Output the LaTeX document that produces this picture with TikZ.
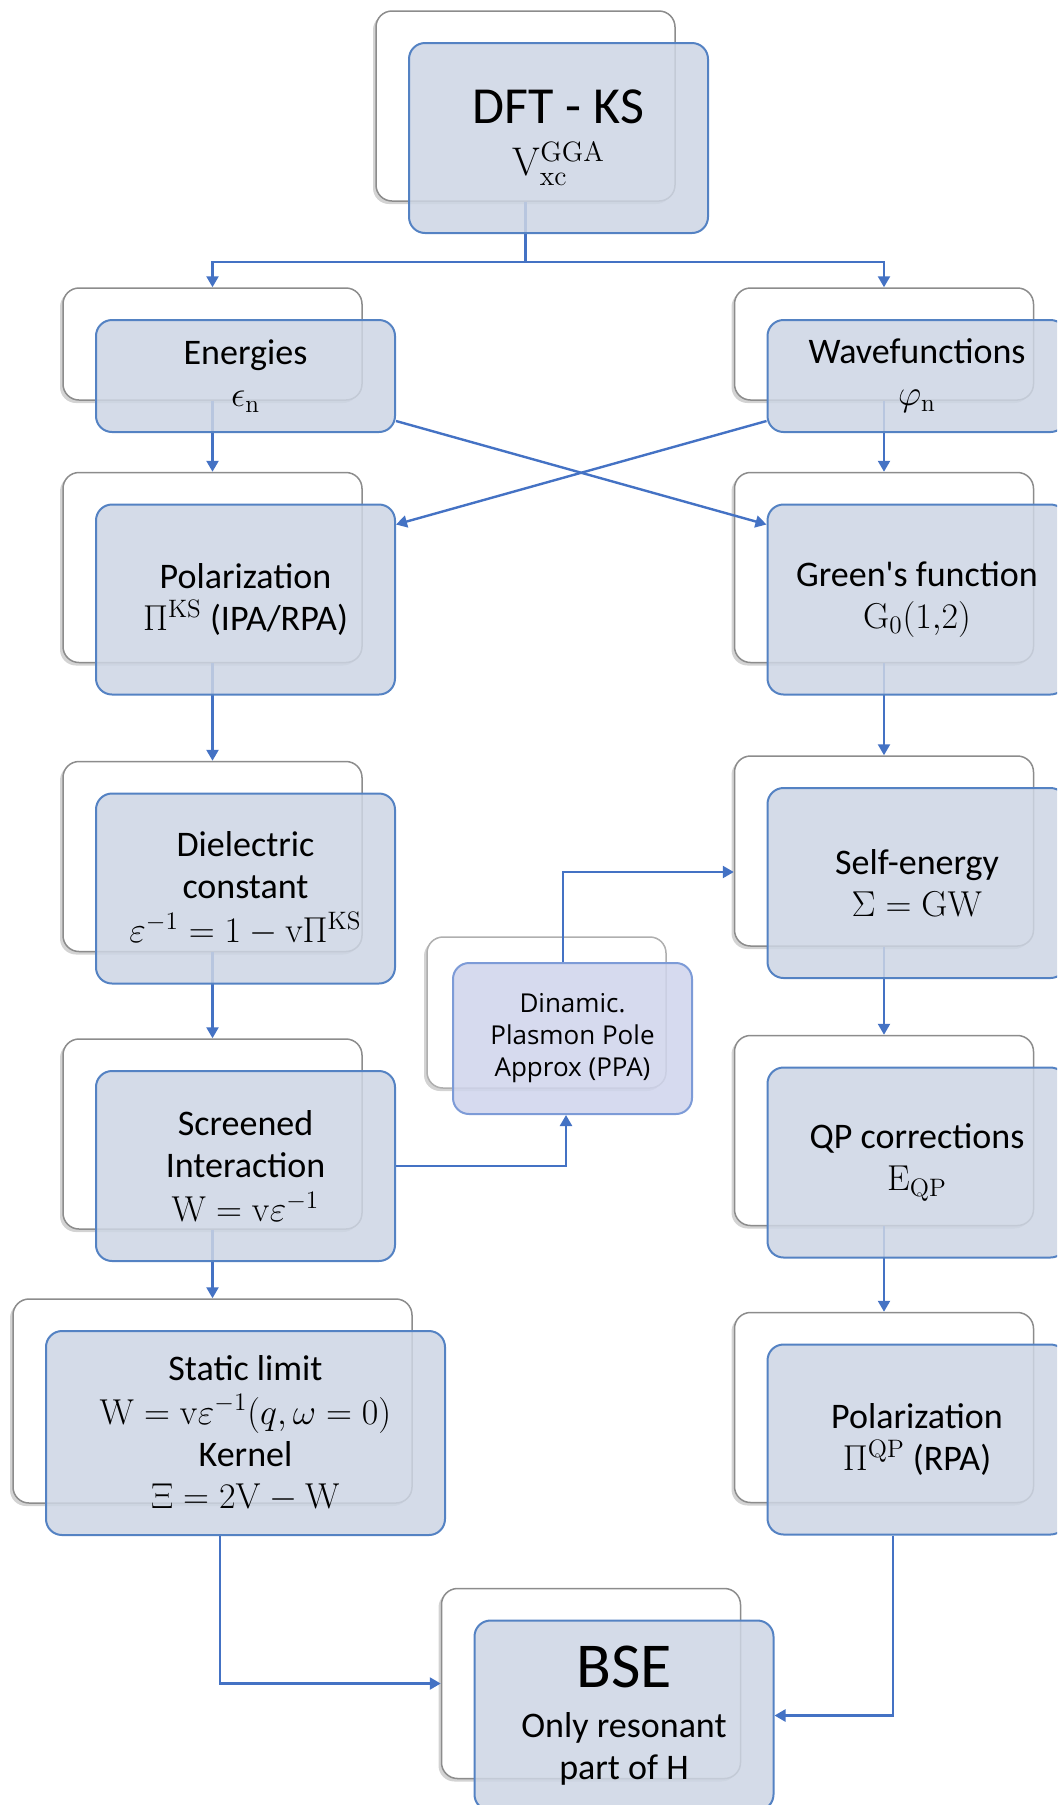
\RequirePackage{fix-cm}
\documentclass[tikz,border=0pt]{standalone}
\usepackage[no-math]{fontspec}
\usepackage{amsmath}
\setmainfont{Carlito}
\newfontfamily\ppafont{Open Sans}
\usetikzlibrary{arrows.meta, shadows}
\definecolor{lineblue}{RGB}{68,114,196}
\definecolor{boxblue}{RGB}{84,130,195}
\definecolor{boxfill}{RGB}{205,213,228}
\definecolor{ppafill}{RGB}{207,212,236}
\definecolor{ppaline}{RGB}{125,155,215}
\definecolor{backgray}{RGB}{140,140,140}
\tikzset{
  backbox/.style={rectangle, draw=backgray, line width=0.75pt, fill=white,
                  rounded corners=8pt, inner sep=0pt,
                  drop shadow={shadow xshift=-1.5pt, shadow yshift=-1.5pt, opacity=0.35}},
  frontbox/.style={rectangle, draw=boxblue, line width=1pt, fill=boxfill,
                   fill opacity=0.85, text opacity=1, rounded corners=8pt,
                   inner sep=0pt, align=center, font=\fontsize{18}{21}\selectfont},
  tallbox/.style={minimum width=149.5pt, minimum height=95pt},
  shortbox/.style={minimum width=149.5pt, minimum height=56pt},
  widebox/.style={minimum width=199.5pt, minimum height=102pt},
  ppabox/.style={minimum width=119.5pt, minimum height=75.5pt},
  arrow/.style={-{Triangle[width=6pt, length=5.5pt]}, draw=lineblue, line width=1.2pt},
  link/.style={draw=lineblue, line width=1.2pt},
}
\begin{document}
\begin{tikzpicture}[x=0.5pt, y=-0.5pt]
  \useasboundingbox (0,0) rectangle (1057,1805);
  \clip (0,0) rectangle (1057,1805);

  % back boxes
  \node[backbox, tallbox] (dft-b) at (525.5,106) {};
  \node[backbox, shortbox] (en-b) at (212.5,344) {};
  \node[backbox, shortbox] (wf-b) at (884,344) {};
  \node[backbox, tallbox] (pol-b) at (212.5,567.5) {};
  \node[backbox, tallbox] (gr-b) at (884,567.5) {};
  \node[backbox, tallbox] (diel-b) at (212.5,856.5) {};
  \node[backbox, tallbox] (scr-b) at (212.5,1134) {};
  \node[backbox, widebox] (stat-b) at (212.5,1401) {};
  \node[backbox, tallbox] (self-b) at (884,851) {};
  \node[backbox, tallbox] (qp-b) at (884,1130.5) {};
  \node[backbox, tallbox] (polqp-b) at (884,1407.5) {};
  \node[backbox, ppabox, draw=backgray!70] (ppa-b) at (546.5,1012.5) {};
  \node[backbox, tallbox] (bse-b) at (591,1683.5) {};

  \coordinate (split) at (525.5,262);
  \draw[link] (dft-b.south) -- (split);
  \draw[arrow] (split) -| (en-b.north);
  \draw[arrow] (split) -| (wf-b.north);
  \draw[arrow] (en-b.south) -- (pol-b.north);
  \draw[arrow] (pol-b.south) -- (diel-b.north);
  \draw[arrow] (diel-b.south) -- (scr-b.north);
  \draw[arrow] (scr-b.south) -- (stat-b.north);
  \draw[arrow] (wf-b.south) -- (gr-b.north);
  \draw[arrow] (gr-b.south) -- (self-b.north);
  \draw[arrow] (self-b.south) -- (qp-b.north);
  \draw[arrow] (qp-b.south) -- (polqp-b.north);

  % front boxes
  \node[frontbox, tallbox] (dft) at ([shift={(33,32)}]dft-b)
    {{\fontsize{26}{30}\selectfont DFT - KS}\\[5pt]{\fontsize{20}{22}\selectfont $\mathrm{V}_{\mathrm{xc}}^{\mathrm{GGA}}$}};
  \node[frontbox, shortbox] (en) at ([shift={(33,32)}]en-b)
    {Energies\\$\epsilon_{\mathrm{n}}$};
  \node[frontbox, shortbox] (wf) at ([shift={(33,32)}]wf-b)
    {Wavefunctions\\$\varphi_{\mathrm{n}}$};
  \node[frontbox, tallbox] (pol) at ([shift={(33,32)}]pol-b)
    {Polarization\\$\Pi^{\mathrm{KS}}$ (IPA/RPA)};
  \node[frontbox, tallbox] (gr) at ([shift={(33,32)}]gr-b)
    {Green\textquotesingle s function\\$\mathrm{G}_0(1{,}2)$};
  \node[frontbox, tallbox] (diel) at ([shift={(33,32)}]diel-b)
    {Dielectric\\constant\\[1pt]$\varepsilon^{-1} = 1 - \mathrm{v}\Pi^{\mathrm{KS}}$};
  \node[frontbox, tallbox] (scr) at ([shift={(33,32)}]scr-b)
    {Screened\\Interaction\\[1pt]$\mathrm{W} = \mathrm{v}\varepsilon^{-1}$};
  \node[frontbox, widebox] (stat) at ([shift={(33,32)}]stat-b)
    {Static limit\\[1pt]$\mathrm{W} = \mathrm{v}\varepsilon^{-1}(q, \omega = 0)$\\Kernel\\$\Xi = 2\mathrm{V} - \mathrm{W}$};
  \node[frontbox, tallbox] (self) at ([shift={(33,32)}]self-b)
    {Self-energy\\$\Sigma = \mathrm{GW}$};
  \node[frontbox, tallbox] (qp) at ([shift={(33,32)}]qp-b)
    {QP corrections\\$\mathrm{E}_{\mathrm{QP}}$};
  \node[frontbox, tallbox] (polqp) at ([shift={(33,32)}]polqp-b)
    {Polarization\\$\Pi^{\mathrm{QP}}$ (RPA)};
  \node[frontbox, ppabox, fill=ppafill, draw=ppaline, font=\ppafont\fontsize{13}{16}\selectfont]
    (ppa) at ([shift={(26,26)}]ppa-b) {Dinamic.\\Plasmon Pole\\Approx (PPA)};
  \node[frontbox, tallbox] (bse) at ([shift={(33,32)}]bse-b)
    {{\fontsize{32}{36}\selectfont BSE}\\[4pt]Only resonant\\part of H};

  \draw[arrow] ([yshift=6pt]en.south east) -- ([yshift=-10.5pt]gr.north west);
  \draw[arrow] ([yshift=6pt]wf.south west) -- ([yshift=-10.5pt]pol.north east);
  \draw[arrow] (scr.east) -| ([xshift=-3.25pt]ppa.south);
  \draw[arrow] ([xshift=-4.75pt]ppa.north) |- ([yshift=-10.5pt]self-b.west);
  \draw[arrow] ([xshift=-12.75pt]stat.south) |- (bse-b.west);
  \draw[arrow] ([xshift=-12pt]polqp.south) |- (bse.east);
\end{tikzpicture}
\end{document}
